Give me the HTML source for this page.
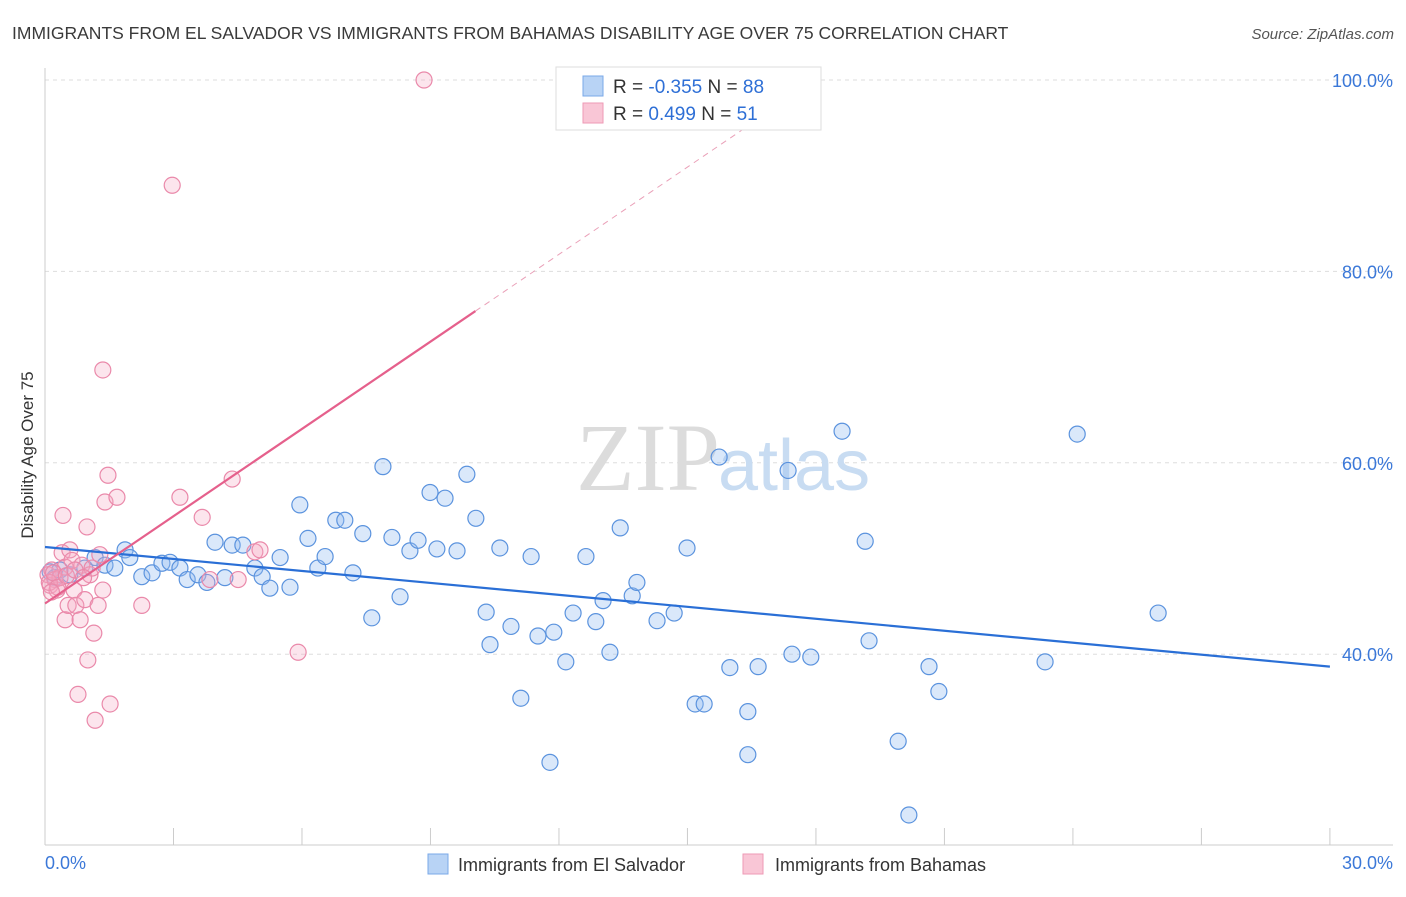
<!DOCTYPE html>
<html><head><meta charset="utf-8"><style>
body{margin:0;background:#fff;font-family:"Liberation Sans",sans-serif}
</style></head><body>
<svg width="1406" height="892" xmlns="http://www.w3.org/2000/svg" font-family="Liberation Sans, sans-serif">
<text x="12" y="39" font-size="17.5" fill="#3a3a3a">IMMIGRANTS FROM EL SALVADOR VS IMMIGRANTS FROM BAHAMAS DISABILITY AGE OVER 75 CORRELATION CHART</text>
<text x="1394" y="39" font-size="15" fill="#555" text-anchor="end" font-style="italic">Source: ZipAtlas.com</text>
<g id="grid"></g>
<text x="720" y="490" font-size="96" text-anchor="end" fill="#dcdcdc" font-family="Liberation Serif, serif">ZIP</text>
<text x="718" y="490" font-size="72" fill="#c8dcf2">atlas</text>
<g id="marks"></g>
<text transform="translate(33,455) rotate(-90)" font-size="17" fill="#333" text-anchor="middle">Disability Age Over 75</text>
<text x="45" y="869" font-size="18" fill="#3b78d8">0.0%</text>
<text x="1393" y="869" font-size="18" fill="#3b78d8" text-anchor="end">30.0%</text>
<g>
<rect x="556" y="67" width="265" height="63" fill="#fff" stroke="#ddd"/>
<rect x="583" y="76" width="20" height="20" fill="#b8d3f5" stroke="#7aa8e8"/>
<rect x="583" y="103" width="20" height="20" fill="#f9c6d6" stroke="#ee9ab5"/>
<text x="613" y="93" font-size="19" fill="#333">R = <tspan fill="#2e6fd6">-0.355</tspan>   N = <tspan fill="#2e6fd6">88</tspan></text>
<text x="613" y="120" font-size="19" fill="#333">R =  <tspan fill="#2e6fd6"> 0.499</tspan>   N =  <tspan fill="#2e6fd6">51</tspan></text>
</g>
<g>
<rect x="428" y="854" width="20" height="20" fill="#b8d3f5" stroke="#7aa8e8"/>
<text x="458" y="871" font-size="18" fill="#333">Immigrants from El Salvador</text>
<rect x="743" y="854" width="20" height="20" fill="#f9c6d6" stroke="#ee9ab5"/>
<text x="775" y="871" font-size="18" fill="#333">Immigrants from Bahamas</text>
</g>
</svg>
<script>
const blueX=[0.12,0.23,0.35,0.58,0.93,1.17,1.4,1.63,1.87,1.98,2.26,2.5,2.73,2.92,3.15,3.32,3.57,3.78,3.97,4.2,4.37,4.62,4.9,5.07,5.25,5.49,5.72,5.95,6.14,6.37,6.54,6.79,7.0,7.19,7.42,7.63,7.89,8.1,8.29,8.52,8.71,8.99,9.15,9.34,9.62,9.85,10.06,10.3,10.39,10.62,10.88,11.11,11.35,11.51,11.79,11.88,12.16,12.33,12.63,12.86,13.03,13.19,13.43,13.71,13.82,14.29,14.69,14.99,15.18,15.39,15.74,15.99,16.41,16.41,16.65,17.35,17.44,17.88,18.61,19.15,19.24,19.92,20.17,20.64,20.87,23.35,24.1,25.99];
const blueY=[48.6,48.0,48.8,48.3,49.0,50.1,49.3,49.0,50.9,50.1,48.1,48.5,49.5,49.6,49.0,47.8,48.3,47.5,51.7,48.0,51.4,51.4,49.0,48.1,46.9,50.1,47.0,55.6,52.1,49.0,50.2,54.0,54.0,48.5,52.6,43.8,59.6,52.2,46.0,50.8,51.9,56.9,51.0,56.3,50.8,58.8,54.2,44.4,41.0,51.1,42.9,35.4,50.2,41.9,28.7,42.3,39.2,44.3,50.2,43.4,45.6,40.2,53.2,46.1,47.5,43.5,44.3,51.1,34.8,34.8,60.6,38.6,29.5,34.0,38.7,59.2,40.0,39.7,63.3,51.8,41.4,30.9,23.2,38.7,36.1,39.2,63.0,44.3];
const pinkX=[0.07,0.12,0.16,0.23,0.28,0.35,0.4,0.42,0.47,0.47,0.54,0.58,0.63,0.68,0.72,0.77,0.82,0.86,0.93,0.98,1.0,1.05,1.1,1.14,1.17,1.24,1.28,1.35,1.35,1.4,1.47,1.52,1.68,2.26,2.97,3.15,3.67,3.85,4.37,4.51,4.9,5.02,5.91,8.85,0.1,0.2,0.3,0.5,0.7,0.9,0.15];
const pinkY=[48.3,47.2,48.8,47.8,46.7,48.0,50.6,54.5,49.1,43.6,45.1,50.9,49.8,46.7,45.1,35.8,43.6,49.3,45.7,53.3,39.4,48.3,49.0,42.2,33.1,45.1,50.4,46.7,69.7,55.9,58.7,34.8,56.4,45.1,89.0,56.4,54.3,47.8,58.3,47.8,50.7,50.9,40.2,100,47.5,48.5,47.0,48.2,48.8,48.0,46.5];
const yTicks=[40,60,80,100];
const blueLine=[51.2,38.7];
const pinkLine=[45.3,3.04];
const X=v=>45+v*42.83, Y=v=>1037-v*9.57;
const NS='http://www.w3.org/2000/svg';
const g=document.getElementById('grid'), m=document.getElementById('marks');
function mk(t,a,p){const e=document.createElementNS(NS,t);for(const k in a)e.setAttribute(k,a[k]);p.appendChild(e);return e;}
yTicks.forEach(t=>{
 const l=mk('line',{x1:45,x2:1393,y1:Y(t),y2:Y(t),stroke:'#ddd','stroke-dasharray':'4,4'},g);
 
 
 const tx=mk('text',{x:1393,y:Y(t)+7,'font-size':18,fill:'#3b78d8','text-anchor':'end'},g);
 tx.textContent=t.toFixed(1)+'%';
 
 
});
const ax=mk('line',{x1:45,x2:45,y1:68,y2:845,stroke:'#ccc'},g);


const bx=mk('line',{x1:45,x2:1393,y1:845,y2:845,stroke:'#ccc'},g);


for(let i=0;i<=10;i++){const t=mk('line',{x1:X(i*3),x2:X(i*3),y1:828,y2:845,stroke:'#ccc'},g);
 
 }
blueX.forEach((x,i)=>{const c=mk('circle',{cx:X(x),cy:Y(blueY[i]),r:8,fill:'rgba(150,190,240,0.35)',stroke:'#5b93de','stroke-width':1.2},m);
 
 });
pinkX.forEach((x,i)=>{const c=mk('circle',{cx:X(x),cy:Y(pinkY[i]),r:8,fill:'rgba(245,170,195,0.3)',stroke:'#ea89aa','stroke-width':1.2},m);
 
 });
const bl=mk('line',{x1:X(0),y1:Y(blueLine[0]),x2:X(30),y2:Y(blueLine[1]),stroke:'#2a6fd6','stroke-width':2.2},m);


const pe=10.05, pt=(100-pinkLine[0])/pinkLine[1];
const pl=mk('line',{x1:X(0),y1:Y(pinkLine[0]),x2:X(pe),y2:Y(pinkLine[0]+pinkLine[1]*pe),stroke:'#e5608c','stroke-width':2.2},m);


const pd=mk('line',{x1:X(pe),y1:Y(pinkLine[0]+pinkLine[1]*pe),x2:X(pt),y2:Y(100),stroke:'#eaa0b8','stroke-width':1,'stroke-dasharray':'6,5'},m);


</script>
</body></html>
